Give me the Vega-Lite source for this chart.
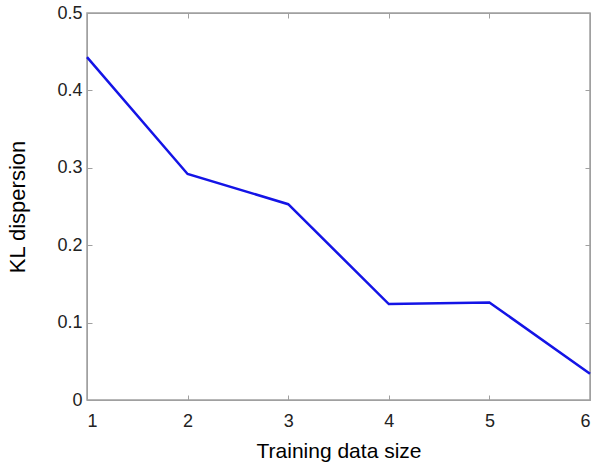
{
  "$schema": "https://vega.github.io/schema/vega-lite/v6.json",
  "width": 503,
  "height": 387,
  "autosize": "none",
  "padding": {"left": 87, "top": 13, "right": 8, "bottom": 64},
  "background": "white",
  "data": {"values": [
    {"size": 1, "kl": 0.443},
    {"size": 2, "kl": 0.292},
    {"size": 3, "kl": 0.253},
    {"size": 4, "kl": 0.124},
    {"size": 5, "kl": 0.126},
    {"size": 6, "kl": 0.034}
  ]},
  "config": {
    "view": {"stroke": "#a0a0a0", "strokeWidth": 1.5},
    "font": "Liberation Sans",
    "axis": {
      "domainColor": "#a0a0a0",
      "tickColor": "#a0a0a0",
      "tickSize": -5,
      "grid": false,
      "labelFont": "Liberation Sans",
      "labelFontSize": 18,
      "labelColor": "#222222",
      "titleFont": "Liberation Sans",
      "titleFontSize": 21,
      "titleFontWeight": "normal",
      "titleColor": "#000000"
    }
  },
  "layer": [
    {
      "mark": {"type": "line", "color": "#1414e6", "strokeWidth": 2.5},
      "encoding": {
        "x": {"field": "size", "type": "quantitative", "scale": {"domain": [1, 6], "nice": false},
              "axis": {"values": [1, 2, 3, 4, 5, 6], "title": "Training data size", "labelPadding": 17, "titlePadding": 10, "format": "d"}},
        "y": {"field": "kl", "type": "quantitative", "scale": {"domain": [0, 0.5], "nice": false},
              "axis": {"values": [0, 0.1, 0.2, 0.3, 0.4, 0.5], "title": "KL dispersion", "titleFontSize": 22, "format": "~g", "labelPadding": 10, "titlePadding": 27}}
      }
    },
    {
      "mark": {"type": "line", "opacity": 0},
      "encoding": {
        "x": {"field": "size", "type": "quantitative", "scale": {"domain": [1, 6], "nice": false},
              "axis": {"orient": "top", "values": [1, 2, 3, 4, 5, 6], "labels": false, "title": null}},
        "y": {"field": "kl", "type": "quantitative", "scale": {"domain": [0, 0.5], "nice": false},
              "axis": {"orient": "right", "values": [0, 0.1, 0.2, 0.3, 0.4, 0.5], "labels": false, "title": null}}
      }
    }
  ],
  "resolve": {"axis": {"x": "independent", "y": "independent"}}
}
